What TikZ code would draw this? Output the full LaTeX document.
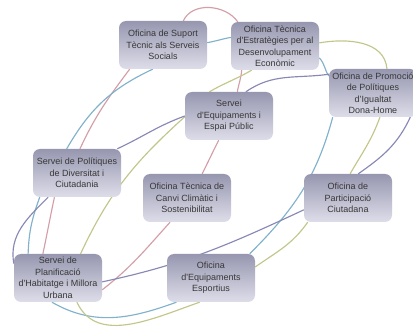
\documentclass[tikz,border=0pt]{standalone}
\usepackage{fontspec}
\setmainfont{Liberation Sans}
\usetikzlibrary{backgrounds}
\definecolor{rosa}{RGB}{212,158,168}
\definecolor{cel}{RGB}{128,178,204}
\definecolor{oliva}{RGB}{194,198,138}
\definecolor{lila}{RGB}{136,136,180}
\definecolor{boxtop}{RGB}{150,150,176}
\definecolor{boxbot}{RGB}{222,222,234}
\definecolor{boxtext}{RGB}{55,55,55}

\begin{document}
\begin{tikzpicture}[x=1pt,y=1pt,
  box/.style={rounded corners=7pt, top color=boxtop, bottom color=boxbot,
    text=boxtext, align=center, minimum width=88pt, minimum height=48pt,
    inner xsep=3pt, inner ysep=2pt, font=\fontsize{9}{11.5}\selectfont},
  link/.style={line width=1.15pt}]
\useasboundingbox (0,0) rectangle (413,327);

\node [box] (sup) at (163,282) {Oficina de Suport\\Tècnic als Serveis\\Socials};
\node [box] (estr) at (275,281) {Oficina Tècnica\\d\textquotesingle Estratègies per al\\Desenvolupament\\Econòmic};
\node [box] (promo) at (373,234) {Oficina de Promoció\\de Polítiques\\d’Igualtat\\Dona-Home};
\node [box] (espai) at (229,211) {Servei\\d\textquotesingle Equipaments i\\Espai Públic};
\node [box] (div) at (77,154) {Servei de Polítiques\\de Diversitat i\\Ciutadania};
\node [box] (canvi) at (187,129) {Oficina Tècnica de\\Canvi Climàtic i\\Sostenibilitat};
\node [box] (parti) at (348,129) {Oficina de\\Participació\\Ciutadana};
\node [box] (plan) at (58,49) {Servei de\\Planificació\\d\textquotesingle Habitatge i Millora\\Urbana};
\node [box] (esport) at (211,49) {Oficina\\d\textquotesingle Equipaments\\Esportius};

\begin{pgfonlayer}{background}
% rosa
\draw [link, rosa] (sup.50) to[out=65,in=125] (estr.147);
\draw [link, rosa] (estr.216) to[out=265,in=80] (espai.71);
\draw [link, rosa] (espai.247) to[out=243,in=63] (canvi.58);
\draw [link, rosa] (canvi.235) to[out=228,in=38] (plan.345);
\draw [link, rosa] (plan.122) to[out=78,in=258] (div.227);
\draw [link, rosa] (div.83) to[out=65,in=233] (sup.216);
% cel
\draw [link, cel] (sup.3) to[out=10,in=190] (estr.169);
\draw [link, cel] (estr.345) to[out=315,in=124] (promo.159);
\draw [link, cel] (promo.211) to[out=255,in=45] (esport.32);
\draw [link, cel] (esport.215) to[out=200,in=330] (plan.256);
\draw [link, cel] (plan.141) to[out=88,in=250] (div.213);
\draw [link, cel] (div.113) to[out=60,in=205] (sup.247);
% oliva
\draw [link, oliva] (estr.4) to[out=10,in=95] (promo.60);
\draw [link, oliva] (promo.286) to[out=250,in=60] (parti.85);
\draw [link, oliva] (parti.211) to[out=235,in=35] (esport.14);
\draw [link, oliva] (esport.245) to[out=199,in=295] (plan.308);
\draw [link, oliva] (plan.47) to[out=65,in=222] (espai.181);
\draw [link, oliva] (espai.129) to[out=30,in=210] (estr.226);
% lila
\draw [link, lila] (div.31) to[out=25,in=200] (espai.180);
\draw [link, lila] (espai.55) to[out=35,in=188] (promo.157);
\draw [link, lila] (promo.327) to[out=245,in=35] (parti.67);
\draw [link, lila] (parti.195) to[out=205,in=12] (plan.355);
\draw [link, lila] (plan.162) to[out=100,in=225] (div.220);
\end{pgfonlayer}
\end{tikzpicture}
\end{document}
